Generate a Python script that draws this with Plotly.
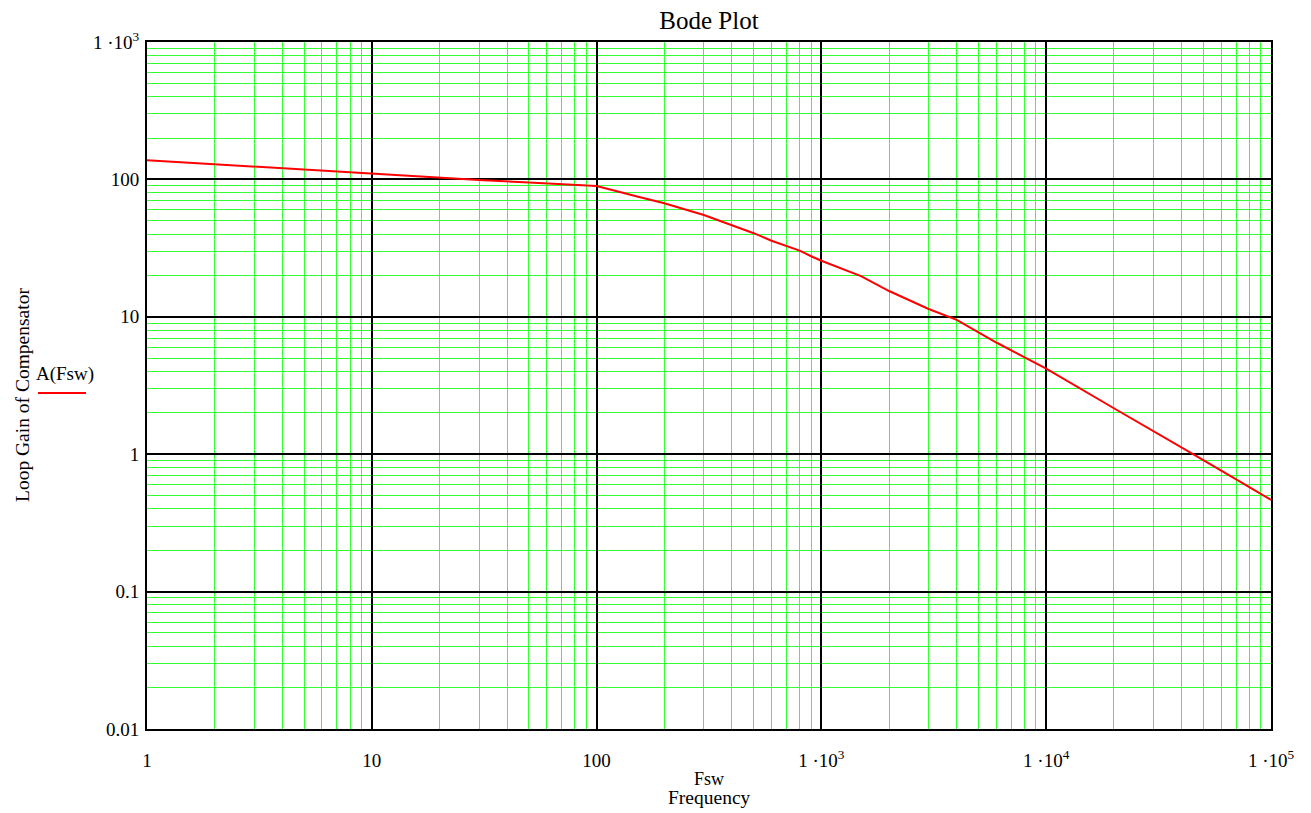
import plotly.graph_objects as go

# Frequency (Hz) and loop gain
freq = [1, 2, 3, 5, 7, 10, 20, 30, 50, 70, 100, 150, 200, 300, 400, 500, 600, 700,
        800, 900, 1000, 1500, 2000, 3000, 4000, 6000, 10000, 20000, 30000, 45000,
        70000, 100000]
gain = [138, 129, 123, 117, 113, 109, 102.6, 99, 95, 92, 89.5, 75.5, 67, 55, 46.6,
        40.6, 35.8, 32.7, 30.3, 27.6, 25.6, 19.8, 15.4, 11.4, 9.5, 6.5, 4.2, 2.16,
        1.48, 1.0, 0.655, 0.465]

x_tickvals = [1, 10, 100, 1000, 10000, 100000]
x_ticktext = ["1", "10", "100", "1 \u00b710<sup>3</sup>", "1 \u00b710<sup>4</sup>",
              "1 \u00b710<sup>5</sup>"]
y_tickvals = [0.01, 0.1, 1, 10, 100, 1000]
y_ticktext = ["0.01", "0.1", "1", "10", "100", "1 \u00b710<sup>3</sup>"]

FONT = "Liberation Serif, Times New Roman, serif"
GREEN = "#33ff33"

fig = go.Figure()
fig.add_trace(go.Scatter(x=freq, y=gain, mode="lines", name="A(Fsw)",
                         line=dict(color="#ff0000", width=2), showlegend=False))

L, R, T, B = 147, 40, 42, 84
W, H = 1311, 813
PW, PH = W - L - R, H - T - B


def px_x(p):
    return (p - L) / PW


def px_y(p):
    return (H - B - p) / PH


fig.update_layout(
    width=W, height=H,
    margin=dict(l=L, r=R, t=T, b=B, autoexpand=False),
    paper_bgcolor="white", plot_bgcolor="white",
    font=dict(family=FONT, color="black", size=19),
    title=dict(text="Bode Plot", x=(L + PW / 2) / W, xanchor="center",
               y=1 - 20 / H, yanchor="middle", font=dict(size=25, family=FONT)),
    xaxis=dict(type="log", range=[0, 5], tickvals=x_tickvals, ticktext=x_ticktext,
               showgrid=True, gridcolor="black", gridwidth=2,
               minor=dict(dtick="D1", showgrid=True, gridcolor=GREEN, gridwidth=1, ticks=""),
               showline=True, linecolor="black", linewidth=2, mirror=True,
               ticks="outside", ticklen=13, tickcolor="rgba(0,0,0,0)",
               tickfont=dict(size=19, family=FONT), zeroline=False),
    yaxis=dict(type="log", range=[-2, 3], tickvals=y_tickvals, ticktext=y_ticktext,
               showgrid=True, gridcolor="black", gridwidth=2,
               minor=dict(dtick="D1", showgrid=True, gridcolor=GREEN, gridwidth=1, ticks=""),
               showline=True, linecolor="black", linewidth=2, mirror=True,
               ticks="outside", ticklen=2, tickcolor="rgba(0,0,0,0)",
               tickfont=dict(size=19, family=FONT), zeroline=False),
)

# Axis titles
fig.add_annotation(text="Fsw", xref="paper", yref="paper",
                   x=0.5, y=px_y(779), xanchor="center", yanchor="middle",
                   showarrow=False, font=dict(size=18, family=FONT))
fig.add_annotation(text="Frequency", xref="paper", yref="paper",
                   x=0.5, y=px_y(798), xanchor="center", yanchor="middle",
                   showarrow=False, font=dict(size=19.5, family=FONT))
fig.add_annotation(text="Loop Gain of Compensator", xref="paper", yref="paper",
                   x=px_x(22), y=px_y(395),
                   xanchor="center", yanchor="middle", textangle=-90,
                   showarrow=False, font=dict(size=19.5, family=FONT))
# Legend entry (text above sample line)
fig.add_annotation(text="A(Fsw)", xref="paper", yref="paper",
                   x=px_x(65), y=px_y(374),
                   xanchor="center", yanchor="middle",
                   showarrow=False, font=dict(size=19, family=FONT))
fig.add_shape(type="line", xref="paper", yref="paper",
              x0=px_x(38), x1=px_x(86), y0=px_y(393), y1=px_y(393),
              line=dict(color="#ff0000", width=2))

fig.write_html("out.html")
